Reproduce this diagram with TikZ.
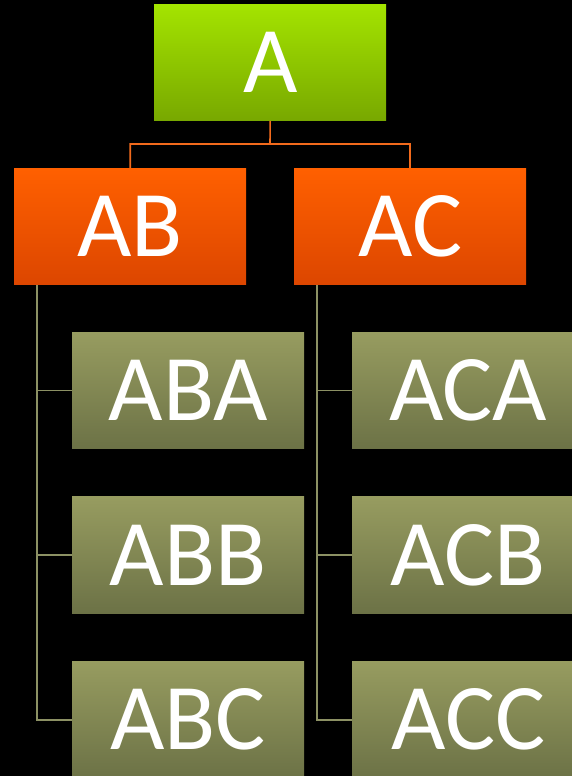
\documentclass[tikz,border=0pt]{standalone}
\usepackage{fontspec}
\setmainfont{Carlito}
\begin{document}
\begin{tikzpicture}[x=1pt,y=-1pt,
  box/.style={draw=none,minimum width=232pt,minimum height=116.5pt,inner sep=0pt,text=white,
    font=\fontsize{94}{94}\selectfont,text depth=0pt,anchor=north west},
  top/.style={box,top color=topT,bottom color=topB},
  mid/.style={box,top color=midT,bottom color=midB},
  leaf/.style={box,top color=leafT,bottom color=leafB},
  oline/.style={draw=olineC,line width=1.6pt},
  gline/.style={draw=glineC,line width=1.6pt}]
\definecolor{topT}{HTML}{A4E400}
\definecolor{topB}{HTML}{78A800}
\definecolor{midT}{HTML}{FF6000}
\definecolor{midB}{HTML}{DC4600}
\definecolor{leafT}{HTML}{979C60}
\definecolor{leafB}{HTML}{6C7246}
\definecolor{olineC}{HTML}{F26A1C}
\definecolor{glineC}{HTML}{8C9164}
\fill[black] (0,0) rectangle (572,776);
\useasboundingbox (0,0) rectangle (572,776);
\clip (0,0) rectangle (572,776);
\node[top] (a) at (154,4) {A};
\node[mid] (ab) at (14,168) {AB};
\node[mid] (ac) at (294,168) {AC};
\node[leaf] (aba) at (72,332) {ABA};
\node[leaf] (abb) at (72,496.5) {ABB};
\node[leaf] (abc) at (72,661) {ABC};
\node[leaf] (aca) at (352,332) {ACA};
\node[leaf] (acb) at (352,496.5) {ACB};
\node[leaf] (acc) at (352,661) {ACC};
\coordinate (bus) at (270,144);
\draw[oline] (a.south) -- (bus) -| (ab.north);
\draw[oline] (bus) -| (ac.north);
\draw[gline] ([xshift=23pt]ab.south west) |- (aba.west);
\draw[gline] ([xshift=23pt]ab.south west) |- (abb.west);
\draw[gline] ([xshift=23pt]ab.south west) |- ([yshift=-0.5pt]abc.west);
\draw[gline] ([xshift=23pt]ac.south west) |- (aca.west);
\draw[gline] ([xshift=23pt]ac.south west) |- (acb.west);
\draw[gline] ([xshift=23pt]ac.south west) |- ([yshift=-0.5pt]acc.west);
\end{tikzpicture}
\end{document}
